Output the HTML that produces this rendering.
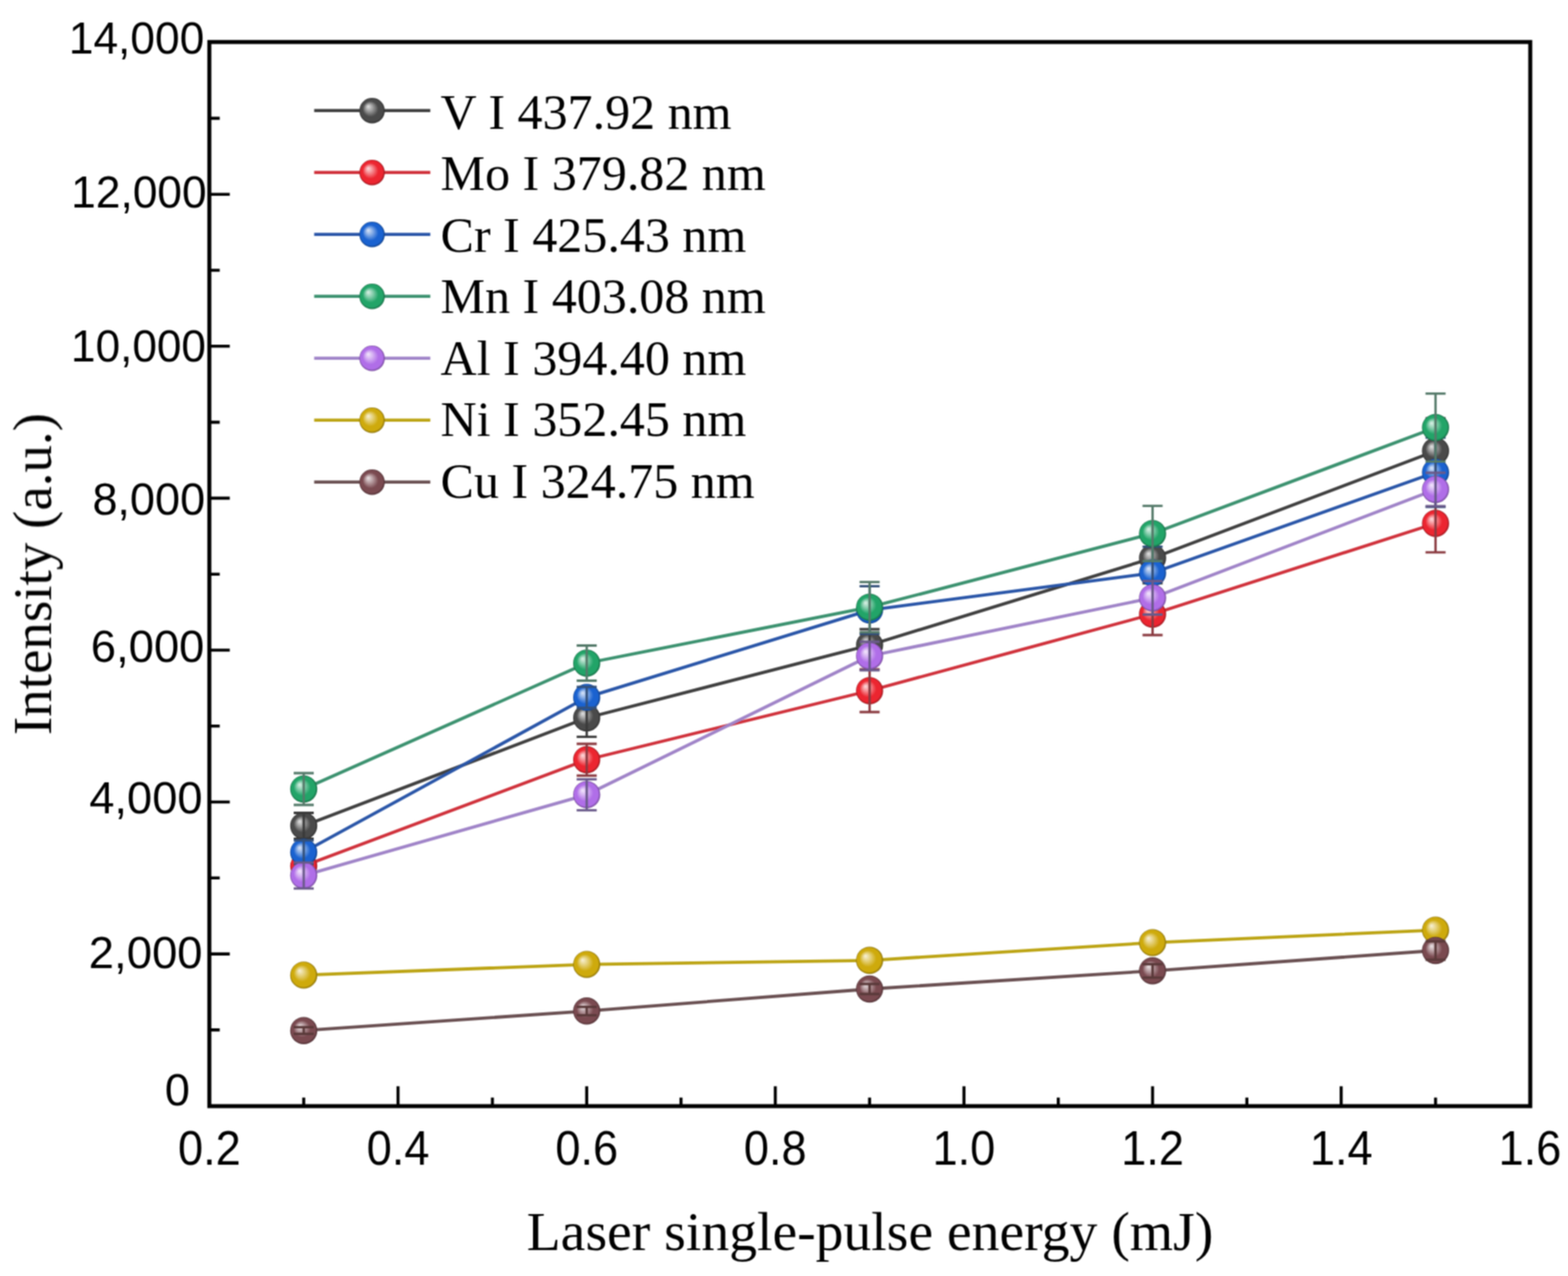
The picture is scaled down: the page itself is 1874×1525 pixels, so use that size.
<!DOCTYPE html><html><head><meta charset="utf-8"><title>Intensity vs laser energy</title>
<style>html,body{margin:0;padding:0;background:#fff;overflow:hidden;}svg{display:block;}.sans{font-family:"Liberation Sans",Arial,sans-serif;}.serif{font-family:"Liberation Serif","Times New Roman",serif;}</style></head><body>
<svg width="1874" height="1525" viewBox="0 0 1874 1525">
<defs>
<filter id="soft" x="0" y="0" width="1874" height="1525" filterUnits="userSpaceOnUse" color-interpolation-filters="sRGB"><feConvolveMatrix order="3" kernelMatrix="1 2 1 2 4 2 1 2 1" divisor="16" edgeMode="duplicate"/></filter>
<radialGradient id="g0" cx="0.5" cy="0.5" r="0.5" fx="0.34" fy="0.33" fr="0"><stop offset="0" stop-color="#e4e4e4"/><stop offset="0.3" stop-color="#9b9b9b"/><stop offset="0.62" stop-color="#4a4a4a"/><stop offset="0.88" stop-color="#4a4a4a"/><stop offset="1" stop-color="#303030"/></radialGradient>
<radialGradient id="g1" cx="0.5" cy="0.5" r="0.5" fx="0.34" fy="0.33" fr="0"><stop offset="0" stop-color="#fcdee0"/><stop offset="0.3" stop-color="#f5878d"/><stop offset="0.62" stop-color="#ec2530"/><stop offset="0.88" stop-color="#ec2530"/><stop offset="1" stop-color="#99181f"/></radialGradient>
<radialGradient id="g2" cx="0.5" cy="0.5" r="0.5" fx="0.34" fy="0.33" fr="0"><stop offset="0" stop-color="#dde7f8"/><stop offset="0.3" stop-color="#81a9e5"/><stop offset="0.62" stop-color="#1a62d0"/><stop offset="0.88" stop-color="#1a62d0"/><stop offset="1" stop-color="#114087"/></radialGradient>
<radialGradient id="g3" cx="0.5" cy="0.5" r="0.5" fx="0.34" fy="0.33" fr="0"><stop offset="0" stop-color="#def1e8"/><stop offset="0.3" stop-color="#85cdac"/><stop offset="0.62" stop-color="#22a468"/><stop offset="0.88" stop-color="#22a468"/><stop offset="1" stop-color="#166b44"/></radialGradient>
<radialGradient id="g4" cx="0.5" cy="0.5" r="0.5" fx="0.34" fy="0.33" fr="0"><stop offset="0" stop-color="#f3e9fc"/><stop offset="0.3" stop-color="#d4aff2"/><stop offset="0.62" stop-color="#b06ee8"/><stop offset="0.88" stop-color="#b06ee8"/><stop offset="1" stop-color="#724897"/></radialGradient>
<radialGradient id="g5" cx="0.5" cy="0.5" r="0.5" fx="0.34" fy="0.33" fr="0"><stop offset="0" stop-color="#f8f2db"/><stop offset="0.3" stop-color="#e4d079"/><stop offset="0.62" stop-color="#ceaa0c"/><stop offset="0.88" stop-color="#ceaa0c"/><stop offset="1" stop-color="#866e08"/></radialGradient>
<radialGradient id="g6" cx="0.5" cy="0.5" r="0.5" fx="0.34" fy="0.33" fr="0"><stop offset="0" stop-color="#ebe4e5"/><stop offset="0.3" stop-color="#b69b9f"/><stop offset="0.62" stop-color="#7a4a50"/><stop offset="0.88" stop-color="#7a4a50"/><stop offset="1" stop-color="#4f3034"/></radialGradient>
</defs>
<rect x="0" y="0" width="1874" height="1525" fill="#fff"/>
<g filter="url(#soft)">
<path d="M250.2 1230.9H262.6M250.2 1140.1H274.6M250.2 1049.3H262.6M250.2 958.5H274.6M250.2 867.8H262.6M250.2 777.0H274.6M250.2 686.2H262.6M250.2 595.4H274.6M250.2 504.6H262.6M250.2 413.8H274.6M250.2 323.0H262.6M250.2 232.2H274.6M250.2 141.4H262.6M363.0 1322.0V1311.7M475.7 1322.0V1298.2M588.5 1322.0V1311.7M701.2 1322.0V1298.2M813.9 1322.0V1311.7M926.6 1322.0V1298.2M1039.3 1322.0V1311.7M1152.1 1322.0V1298.2M1264.8 1322.0V1311.7M1377.5 1322.0V1298.2M1490.2 1322.0V1311.7M1602.9 1322.0V1298.2M1715.7 1322.0V1311.7" stroke="#000" stroke-width="3.6" fill="none"/>
<polyline points="363.0,987.0 701.2,858.0 1039.3,771.0 1377.5,667.0 1715.7,539.0" stroke="#404040" stroke-width="3.8" fill="none" stroke-linejoin="round"/>
<circle cx="363.0" cy="987.0" r="16.2" fill="url(#g0)"/>
<circle cx="701.2" cy="858.0" r="16.2" fill="url(#g0)"/>
<circle cx="1039.3" cy="771.0" r="16.2" fill="url(#g0)"/>
<circle cx="1377.5" cy="667.0" r="16.2" fill="url(#g0)"/>
<circle cx="1715.7" cy="539.0" r="16.2" fill="url(#g0)"/>
<path d="M363.0 971.5V1002.5M351.0 971.5H375.0M351.0 1002.5H375.0M701.2 835.4V880.6M689.2 835.4H713.2M689.2 880.6H713.2M1039.3 752.0V790.0M1027.3 752.0H1051.3M1027.3 790.0H1051.3M1377.5 637.0V697.0M1365.5 637.0H1389.5M1365.5 697.0H1389.5M1715.7 500.0V578.0M1703.7 500.0H1727.7M1703.7 578.0H1727.7" stroke="#3a3a3a" stroke-width="2.8" fill="none"/>
<polyline points="363.0,1034.9 701.2,908.0 1039.3,825.5 1377.5,734.0 1715.7,625.5" stroke="#d0323c" stroke-width="3.8" fill="none" stroke-linejoin="round"/>
<circle cx="363.0" cy="1034.9" r="16.2" fill="url(#g1)"/>
<circle cx="701.2" cy="908.0" r="16.2" fill="url(#g1)"/>
<circle cx="1039.3" cy="825.5" r="16.2" fill="url(#g1)"/>
<circle cx="1377.5" cy="734.0" r="16.2" fill="url(#g1)"/>
<circle cx="1715.7" cy="625.5" r="16.2" fill="url(#g1)"/>
<path d="M363.0 1019.9V1049.9M351.0 1019.9H375.0M351.0 1049.9H375.0M701.2 889.0V927.0M689.2 889.0H713.2M689.2 927.0H713.2M1039.3 800.0V851.0M1027.3 800.0H1051.3M1027.3 851.0H1051.3M1377.5 709.0V759.0M1365.5 709.0H1389.5M1365.5 759.0H1389.5M1715.7 590.8V660.2M1703.7 590.8H1727.7M1703.7 660.2H1727.7" stroke="#8a3a40" stroke-width="2.8" fill="none"/>
<polyline points="363.0,1018.4 701.2,833.4 1039.3,729.1 1377.5,684.8 1715.7,564.5" stroke="#2a56a8" stroke-width="3.8" fill="none" stroke-linejoin="round"/>
<circle cx="363.0" cy="1018.4" r="16.2" fill="url(#g2)"/>
<circle cx="701.2" cy="833.4" r="16.2" fill="url(#g2)"/>
<circle cx="1039.3" cy="729.1" r="16.2" fill="url(#g2)"/>
<circle cx="1377.5" cy="684.8" r="16.2" fill="url(#g2)"/>
<circle cx="1715.7" cy="564.5" r="16.2" fill="url(#g2)"/>
<path d="M363.0 1004.4V1032.4M351.0 1004.4H375.0M351.0 1032.4H375.0M701.2 820.8V846.0M689.2 820.8H713.2M689.2 846.0H713.2M1039.3 700.6V757.6M1027.3 700.6H1051.3M1027.3 757.6H1051.3M1377.5 653.3V716.3M1365.5 653.3H1389.5M1365.5 716.3H1389.5M1715.7 523.1V605.9M1703.7 523.1H1727.7M1703.7 605.9H1727.7" stroke="#33507a" stroke-width="2.8" fill="none"/>
<polyline points="363.0,943.0 701.2,792.5 1039.3,725.7 1377.5,637.7 1715.7,511.0" stroke="#3c9270" stroke-width="3.8" fill="none" stroke-linejoin="round"/>
<circle cx="363.0" cy="943.0" r="16.2" fill="url(#g3)"/>
<circle cx="701.2" cy="792.5" r="16.2" fill="url(#g3)"/>
<circle cx="1039.3" cy="725.7" r="16.2" fill="url(#g3)"/>
<circle cx="1377.5" cy="637.7" r="16.2" fill="url(#g3)"/>
<circle cx="1715.7" cy="511.0" r="16.2" fill="url(#g3)"/>
<path d="M363.0 924.0V962.0M351.0 924.0H375.0M351.0 962.0H375.0M701.2 771.5V813.5M689.2 771.5H713.2M689.2 813.5H713.2M1039.3 695.7V755.7M1027.3 695.7H1051.3M1027.3 755.7H1051.3M1377.5 604.7V670.7M1365.5 604.7H1389.5M1365.5 670.7H1389.5M1715.7 470.4V551.6M1703.7 470.4H1727.7M1703.7 551.6H1727.7" stroke="#557a6a" stroke-width="2.8" fill="none"/>
<polyline points="363.0,1046.3 701.2,949.8 1039.3,784.0 1377.5,714.5 1715.7,585.0" stroke="#a084c8" stroke-width="3.8" fill="none" stroke-linejoin="round"/>
<circle cx="363.0" cy="1046.3" r="16.2" fill="url(#g4)"/>
<circle cx="701.2" cy="949.8" r="16.2" fill="url(#g4)"/>
<circle cx="1039.3" cy="784.0" r="16.2" fill="url(#g4)"/>
<circle cx="1377.5" cy="714.5" r="16.2" fill="url(#g4)"/>
<circle cx="1715.7" cy="585.0" r="16.2" fill="url(#g4)"/>
<path d="M363.0 1030.8V1061.8M351.0 1030.8H375.0M351.0 1061.8H375.0M701.2 931.3V968.3M689.2 931.3H713.2M689.2 968.3H713.2M1039.3 767.0V801.0M1027.3 767.0H1051.3M1027.3 801.0H1051.3M1377.5 694.5V734.5M1365.5 694.5H1389.5M1365.5 734.5H1389.5M1715.7 565.0V605.0M1703.7 565.0H1727.7M1703.7 605.0H1727.7" stroke="#6a5a8a" stroke-width="2.8" fill="none"/>
<polyline points="363.0,1165.4 701.2,1152.6 1039.3,1147.8 1377.5,1126.6 1715.7,1111.6" stroke="#bca414" stroke-width="3.8" fill="none" stroke-linejoin="round"/>
<circle cx="363.0" cy="1165.4" r="16.2" fill="url(#g5)"/>
<circle cx="701.2" cy="1152.6" r="16.2" fill="url(#g5)"/>
<circle cx="1039.3" cy="1147.8" r="16.2" fill="url(#g5)"/>
<circle cx="1377.5" cy="1126.6" r="16.2" fill="url(#g5)"/>
<circle cx="1715.7" cy="1111.6" r="16.2" fill="url(#g5)"/>
<polyline points="363.0,1231.7 701.2,1208.3 1039.3,1182.0 1377.5,1160.3 1715.7,1136.0" stroke="#6a5052" stroke-width="3.8" fill="none" stroke-linejoin="round"/>
<circle cx="363.0" cy="1231.7" r="16.2" fill="url(#g6)"/>
<circle cx="701.2" cy="1208.3" r="16.2" fill="url(#g6)"/>
<circle cx="1039.3" cy="1182.0" r="16.2" fill="url(#g6)"/>
<circle cx="1377.5" cy="1160.3" r="16.2" fill="url(#g6)"/>
<circle cx="1715.7" cy="1136.0" r="16.2" fill="url(#g6)"/>
<path d="M363.0 1227.7V1235.7M351.0 1227.7H375.0M351.0 1235.7H375.0M701.2 1203.3V1213.3M689.2 1203.3H713.2M689.2 1213.3H713.2M1039.3 1176.0V1188.0M1027.3 1176.0H1051.3M1027.3 1188.0H1051.3M1377.5 1152.3V1168.3M1365.5 1152.3H1389.5M1365.5 1168.3H1389.5M1715.7 1125.0V1147.0M1703.7 1125.0H1727.7M1703.7 1147.0H1727.7" stroke="#5a3a3a" stroke-width="2.8" fill="none"/>
<rect x="250.2" y="50.2" width="1578.7" height="1271.8" stroke="#000" stroke-width="4.8" fill="none"/>
<text class="sans" x="82.2" y="63.8" font-size="54" textLength="161.9" lengthAdjust="spacingAndGlyphs">14,000</text>
<text class="sans" x="85.1" y="248.1" font-size="54" textLength="161.9" lengthAdjust="spacingAndGlyphs">12,000</text>
<text class="sans" x="84.8" y="432.1" font-size="54" textLength="161.4" lengthAdjust="spacingAndGlyphs">10,000</text>
<text class="sans" x="110.4" y="614.8" font-size="54" textLength="134.9" lengthAdjust="spacingAndGlyphs">8,000</text>
<text class="sans" x="108.5" y="791.0" font-size="54" textLength="135.8" lengthAdjust="spacingAndGlyphs">6,000</text>
<text class="sans" x="106.8" y="972.2" font-size="54" textLength="135.2" lengthAdjust="spacingAndGlyphs">4,000</text>
<text class="sans" x="106.1" y="1156.6" font-size="54" textLength="136.0" lengthAdjust="spacingAndGlyphs">2,000</text>
<text class="sans" x="197.1" y="1321.4" font-size="54" textLength="30.0" lengthAdjust="spacingAndGlyphs">0</text>
<text class="sans" x="212.8" y="1392" font-size="56.5" textLength="75.0" lengthAdjust="spacingAndGlyphs">0.2</text>
<text class="sans" x="438.2" y="1392" font-size="56.5" textLength="75.0" lengthAdjust="spacingAndGlyphs">0.4</text>
<text class="sans" x="663.7" y="1392" font-size="56.5" textLength="75.0" lengthAdjust="spacingAndGlyphs">0.6</text>
<text class="sans" x="889.1" y="1392" font-size="56.5" textLength="75.0" lengthAdjust="spacingAndGlyphs">0.8</text>
<text class="sans" x="1114.6" y="1392" font-size="56.5" textLength="75.0" lengthAdjust="spacingAndGlyphs">1.0</text>
<text class="sans" x="1340.0" y="1392" font-size="56.5" textLength="75.0" lengthAdjust="spacingAndGlyphs">1.2</text>
<text class="sans" x="1565.4" y="1392" font-size="56.5" textLength="75.0" lengthAdjust="spacingAndGlyphs">1.4</text>
<text class="sans" x="1790.9" y="1392" font-size="56.5" textLength="75.0" lengthAdjust="spacingAndGlyphs">1.6</text>
<text class="serif" x="629.5" y="1494" font-size="66.5">Laser single-pulse energy (mJ)</text>
<text class="serif" transform="translate(61,878.5) rotate(-90)" x="0" y="0" font-size="65.7">Intensity (a.u.)</text>
<line x1="375.5" y1="132.2" x2="514.3" y2="132.2" stroke="#404040" stroke-width="3.8"/>
<circle cx="444.7" cy="132.2" r="15.2" fill="url(#g0)"/>
<text class="serif" x="526.6" y="153.6" font-size="59.8">V I 437.92 nm</text>
<line x1="375.5" y1="206.2" x2="514.3" y2="206.2" stroke="#d0323c" stroke-width="3.8"/>
<circle cx="444.7" cy="206.2" r="15.2" fill="url(#g1)"/>
<text class="serif" x="526.6" y="227.1" font-size="59.8">Mo I 379.82 nm</text>
<line x1="375.5" y1="280.2" x2="514.3" y2="280.2" stroke="#2a56a8" stroke-width="3.8"/>
<circle cx="444.7" cy="280.2" r="15.2" fill="url(#g2)"/>
<text class="serif" x="526.6" y="300.7" font-size="59.8">Cr I 425.43 nm</text>
<line x1="375.5" y1="354.2" x2="514.3" y2="354.2" stroke="#3c9270" stroke-width="3.8"/>
<circle cx="444.7" cy="354.2" r="15.2" fill="url(#g3)"/>
<text class="serif" x="526.6" y="374.2" font-size="59.8">Mn I 403.08 nm</text>
<line x1="375.5" y1="428.2" x2="514.3" y2="428.2" stroke="#a084c8" stroke-width="3.8"/>
<circle cx="444.7" cy="428.2" r="15.2" fill="url(#g4)"/>
<text class="serif" x="526.6" y="447.8" font-size="59.8">Al I 394.40 nm</text>
<line x1="375.5" y1="502.2" x2="514.3" y2="502.2" stroke="#bca414" stroke-width="3.8"/>
<circle cx="444.7" cy="502.2" r="15.2" fill="url(#g5)"/>
<text class="serif" x="526.6" y="521.4" font-size="59.8">Ni I 352.45 nm</text>
<line x1="375.5" y1="576.2" x2="514.3" y2="576.2" stroke="#6a5052" stroke-width="3.8"/>
<circle cx="444.7" cy="576.2" r="15.2" fill="url(#g6)"/>
<text class="serif" x="526.6" y="594.9" font-size="59.8">Cu I 324.75 nm</text>
</g></svg></body></html>
